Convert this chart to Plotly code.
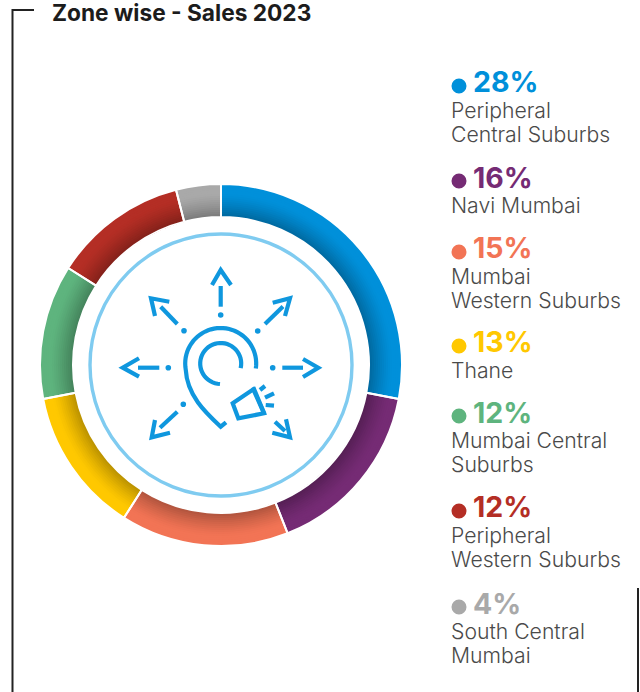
import math
import plotly.graph_objects as go

W, H = 640, 692
title = "Zone wise - Sales 2023"
zones = ["Peripheral<br>Central Suburbs", "Navi Mumbai", "Mumbai<br>Western Suburbs", "Thane",
         "Mumbai Central<br>Suburbs", "Peripheral<br>Western Suburbs", "South Central<br>Mumbai"]
shares = [28, 16, 15, 13, 12, 12, 4]
colors = ["#0090DA", "#752B74", "#F27455", "#FFC800", "#5EB47E", "#B42E25", "#A9A9A9"]
pct_y = [82, 177, 248, 342, 412, 507, 603]

CX, CY, R_OUT, R_IN = 221, 365, 181, 148
FONT = "Inter"
ICON = "#0F97DE"


def px(x):
    return x / W


def py(y):
    return 1 - y / H


def path(points, close=False):
    s = "M" + " L".join(f"{px(x):.5f},{py(y):.5f}" for x, y in points)
    return s + (" Z" if close else "")


def shade(hex_color, f):
    r, g, b = int(hex_color[1:3], 16), int(hex_color[3:5], 16), int(hex_color[5:7], 16)
    return f"rgb({int(r*f)},{int(g*f)},{int(b*f)})"


def ring(r, slice_colors, line_spec):
    return go.Pie(
        values=shares, labels=zones, sort=False, direction="clockwise", rotation=0,
        hole=R_IN / r, textinfo="none", hoverinfo="skip", showlegend=False,
        marker=dict(colors=slice_colors, line=line_spec),
        domain=dict(x=[px(CX - r), px(CX + r)], y=[py(CY + r), py(CY - r)]),
    )


fig = go.Figure()
STEPS = 16
for i in range(STEPS + 1):
    t = i / STEPS
    r = R_OUT - t * (R_OUT - R_IN - 1)
    f = 1.0 if r > 172 else 1 - 0.3 * ((172 - r) / 24) ** 1.3
    fig.add_trace(ring(r, [shade(c, f) for c in colors], dict(width=0)))
# white slice separators
fig.add_trace(ring(R_OUT, ["rgba(0,0,0,0)"] * len(colors), dict(color="white", width=2)))

shapes = []


def line(points, color=ICON, width=4.2, close=False):
    shapes.append(dict(type="path", xref="paper", yref="paper", path=path(points, close),
                       line=dict(color=color, width=width), layer="above"))


def dot(x, y, r, color=ICON):
    shapes.append(dict(type="circle", xref="paper", yref="paper", layer="above",
                       x0=px(x - r), x1=px(x + r), y0=py(y + r), y1=py(y - r),
                       fillcolor=color, line=dict(width=0)))


def arc(x, y, r, a0, a1, n=40):
    pts = []
    for k in range(n + 1):
        a = math.radians(a0 + (a1 - a0) * k / n)
        pts.append((x + r * math.sin(a), y - r * math.cos(a)))
    return pts


# inner thin ring
shapes.append(dict(type="circle", xref="paper", yref="paper", layer="above",
                   x0=px(CX - 131), x1=px(CX + 131), y0=py(CY + 131), y1=py(CY - 131),
                   line=dict(color="#7FCBF0", width=3.4)))

# frame
line([(34, 10), (12.5, 10), (12.5, 692)], "#222222", 2)
line([(638, 588), (638, 692)], "#222222", 2)

# arrows: stem, head, dot
arrows = [
    ([(220.7, 306.7), (220.7, 286)], [(212, 285), (220.7, 270), (231, 285)], (220.7, 315)),
    ([(265, 324), (283, 306.5)], [(272.7, 302.7), (290, 298.3), (285, 316)], (257.7, 331)),
    ([(282.3, 367.7), (303, 367.7)], [(303, 359), (318.3, 367.7), (303, 377)], (272.7, 367.7)),
    ([(159.3, 367.7), (138, 367.7)], [(139, 358.3), (122.7, 367.7), (139, 376.7)], (168.3, 367.7)),
    ([(177.3, 324), (160.7, 306.7)], [(169.3, 301.7), (151, 298.3), (155, 316)], (184, 330.7)),
    ([(177.3, 411.7), (160, 427.7)], [(155, 420), (151.7, 437.3), (170, 432.7)], (183.3, 404.3)),
    ([(275, 421.7), (285, 431)], [(286, 419.3), (290, 437.3), (272.3, 432.7)], None),
]
for stem, head, d in arrows:
    line(stem)
    line(head)
    if d:
        dot(d[0], d[1], 2.8)

# pin outline
right_left = arc(220.7, 363.5, 35.5, 98, -100)
shapes.append(dict(type="path", xref="paper", yref="paper", layer="above",
                   line=dict(color=ICON, width=4.2),
                   path=path(right_left) + f" C{px(187):.5f},{py(395):.5f} {px(205):.5f},{py(412):.5f} {px(220.7):.5f},{py(426.7):.5f} L{px(226):.5f},{py(422.3):.5f}"))
line(arc(220.7, 363.5, 20.5, 103, -178))

# megaphone
line([(232.7, 403.3), (253.3, 389.3), (264, 413.3), (238.3, 418.3)], close=True)
line([(253.3, 387.3), (264.5, 414)])
line([(260, 390), (265, 386)])
line([(265, 397.7), (274, 393.3)])
line([(265.7, 405), (274, 405.7)])

annotations = [dict(text=f"<b>{title}</b>", x=px(50), y=py(0), xref="paper", yref="paper", xanchor="left",
                    yanchor="top", height=21, valign="middle", showarrow=False,
                    font=dict(family=FONT, size=22.7, color="#1C1C1C"))]
for zone, share, color, y in zip(zones, shares, colors, pct_y):
    annotations.append(dict(text=f"<b>{share}%</b>", x=px(471), y=py(y), xref="paper", yref="paper",
                            xanchor="left", yanchor="middle", showarrow=False,
                            font=dict(family=FONT, size=28.5, color=color)))
    for k, part in enumerate(zone.split("<br>")):
        annotations.append(dict(text=part, x=px(449), y=py(y + 28 + 24 * k), xref="paper", yref="paper",
                                xanchor="left", yanchor="middle", align="left", showarrow=False,
                                font=dict(family=FONT, size=21.2, weight=300, color="#4A4A4A")))
    dot(459, y + 4, 7.5, color)

fig.update_layout(width=W, height=H, margin=dict(l=0, r=0, t=0, b=0), paper_bgcolor="white",
                  plot_bgcolor="white", shapes=shapes, annotations=annotations, showlegend=False)
fig.write_html("out.html", config=dict(displayModeBar=False), post_script="document.body.style.margin='0';")
